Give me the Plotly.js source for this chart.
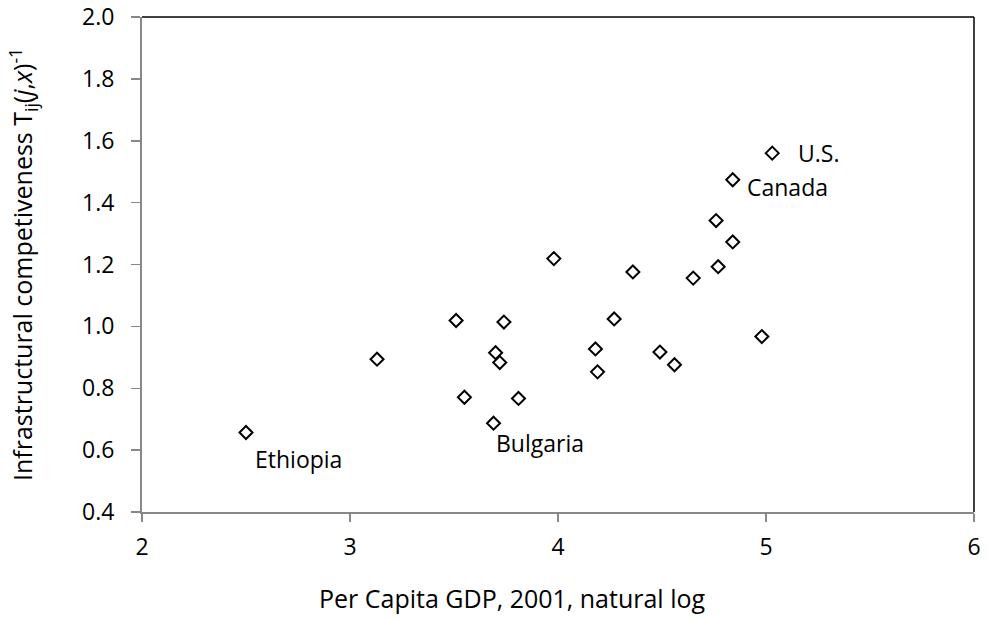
<!DOCTYPE html>
<html>
<head>
<meta charset="utf-8">
<script src="https://cdn.plot.ly/plotly-3.0.1.min.js"></script>
<style>html,body{margin:0;padding:0;background:#fff;}#chart{width:988px;height:620px;}</style>
</head>
<body>
<div id="chart"></div>
<script>
// Per capita GDP 2001 (natural log) and infrastructural competitiveness
const gdpLog = [2.50, 3.13, 3.51, 3.55, 3.69, 3.70, 3.72, 3.74, 3.81, 3.98, 4.18, 4.19, 4.27, 4.36, 4.49, 4.56, 4.65, 4.76, 4.77, 4.84, 4.84, 4.98, 5.03];
const competitiveness = [0.657, 0.894, 1.019, 0.771, 0.687, 0.915, 0.883, 1.014, 0.767, 1.219, 0.927, 0.853, 1.024, 1.176, 0.917, 0.876, 1.156, 1.342, 1.193, 1.273, 1.474, 0.967, 1.56];
const countryLabels = ['Ethiopia', '', '', '', 'Bulgaria', '', '', '', '', '', '', '', '', '', '', '', '', '', '', '', 'Canada', '', 'U.S.'];
const xTickVals = [2, 3, 4, 5, 6];
const yTickVals = [0.4, 0.6, 0.8, 1.0, 1.2, 1.4, 1.6, 1.8, 2.0];

const FONT = 'Open Sans, Noto Sans, sans-serif';
const labelOffsets = {
  'Ethiopia': {xshift: 7, yshift: -27},
  'Bulgaria': {xshift: 0, yshift: -20},
  'Canada': {xshift: 12, yshift: -7},
  'U.S.': {xshift: 24, yshift: 0}
};

const annotations = [];
countryLabels.forEach((name, i) => {
  if (!name) return;
  const o = labelOffsets[name];
  annotations.push({
    x: gdpLog[i], y: competitiveness[i], xref: 'x', yref: 'y',
    text: name, showarrow: false, xanchor: 'left', yanchor: 'middle',
    xshift: o.xshift, yshift: o.yshift,
    font: {family: FONT, size: 23, color: '#000'}
  });
});
annotations.push({
  xref: 'paper', yref: 'paper', x: (512 - 142) / (974 - 142), y: -(598 - 512) / (512 - 17),
  xanchor: 'center', yanchor: 'middle', showarrow: false,
  text: 'Per Capita GDP, 2001, natural log',
  font: {family: FONT, size: 25, color: '#000'}
});

const trace = {
  x: gdpLog, y: competitiveness, type: 'scatter', mode: 'markers',
  marker: {symbol: 'diamond-open', size: 10, color: '#000', line: {width: 2, color: '#000'}},
  hoverinfo: 'x+y', showlegend: false
};

const layout = {
  width: 988, height: 620,
  margin: {l: 142, r: 14, t: 17, b: 108},
  paper_bgcolor: '#fff', plot_bgcolor: '#fff',
  font: {family: FONT, size: 23, color: '#000'},
  xaxis: {
    range: [2, 6], tickvals: xTickVals, ticktext: xTickVals.map(String),
    showgrid: false, zeroline: false,
    showline: true, linecolor: '#888', linewidth: 2,
    ticks: 'outside', ticklen: 8, tickwidth: 1.5, tickcolor: '#888',
    ticklabelstandoff: 5,
    tickfont: {family: FONT, size: 23, color: '#000'}
  },
  yaxis: {
    range: [0.4, 2.0], tickvals: yTickVals, ticktext: yTickVals.map(v => v.toFixed(1)),
    showgrid: false, zeroline: false,
    showline: true, linecolor: '#888', linewidth: 2,
    ticks: 'outside', ticklen: 9, tickwidth: 1.5, tickcolor: '#888',
    ticklabelstandoff: 12,
    tickfont: {family: FONT, size: 23, color: '#000'},
    title: {text: 'Infrastructural competiveness T<sub>ij</sub>(<i>j</i>,<i>x</i>)<sup>-1</sup>', font: {family: FONT, size: 25, color: '#000'}, standoff: 42}
  },
  shapes: [
    {type: 'line', xref: 'paper', yref: 'paper', x0: 0, x1: 1, y0: 1, y1: 1, line: {color: '#000', width: 1.5}},
    {type: 'line', xref: 'paper', yref: 'paper', x0: 1, x1: 1, y0: 0, y1: 1, line: {color: '#000', width: 1.5}}
  ],
  annotations: annotations
};

Plotly.newPlot('chart', [trace], layout, {displayModeBar: false, staticPlot: true});
</script>
</body>
</html>
